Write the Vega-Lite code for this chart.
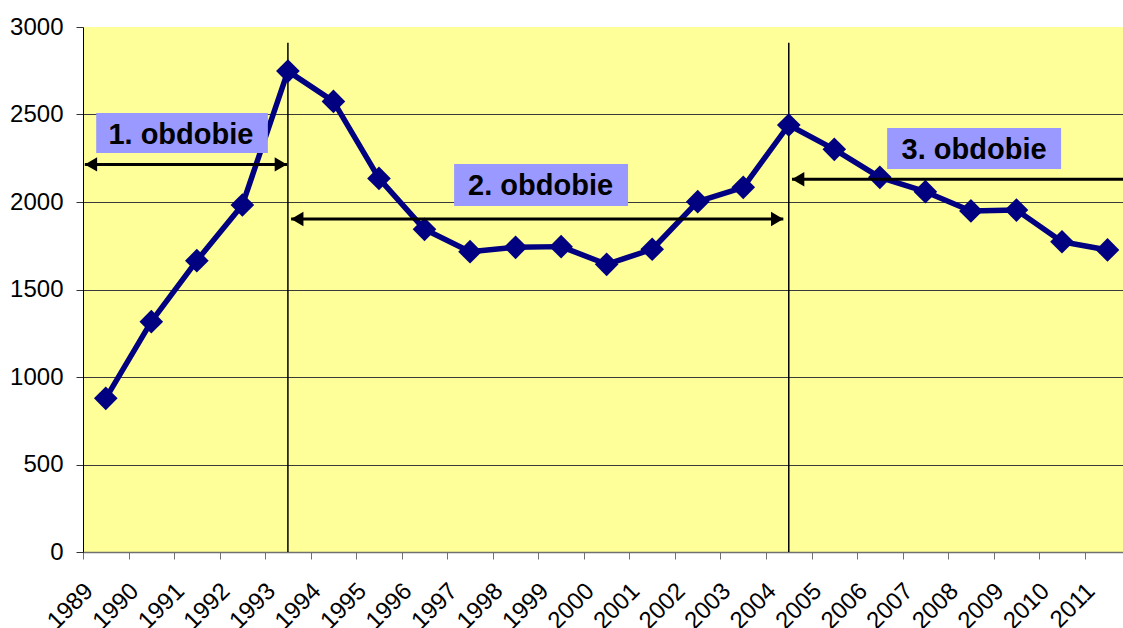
{
  "$schema": "https://vega.github.io/schema/vega-lite/v6.json",
  "width": 1040,
  "height": 525,
  "autosize": {"type": "none"},
  "padding": {"left": 83, "top": 27, "right": 0, "bottom": 76},
  "background": "white",
  "config": {
    "view": {"fill": "#FFFF99", "stroke": null},
    "font": "Liberation Sans"
  },
  "datasets": {
    "series": [
      {"year": 1989, "value": 878},
      {"year": 1990, "value": 1316},
      {"year": 1991, "value": 1665},
      {"year": 1992, "value": 1983},
      {"year": 1993, "value": 2748},
      {"year": 1994, "value": 2575},
      {"year": 1995, "value": 2135},
      {"year": 1996, "value": 1844},
      {"year": 1997, "value": 1716},
      {"year": 1998, "value": 1741},
      {"year": 1999, "value": 1745},
      {"year": 2000, "value": 1644},
      {"year": 2001, "value": 1730},
      {"year": 2002, "value": 2002},
      {"year": 2003, "value": 2084},
      {"year": 2004, "value": 2440},
      {"year": 2005, "value": 2301},
      {"year": 2006, "value": 2141},
      {"year": 2007, "value": 2059},
      {"year": 2008, "value": 1949},
      {"year": 2009, "value": 1954},
      {"year": 2010, "value": 1773},
      {"year": 2011, "value": 1726}
    ],
    "periods": [
      {"year": 1993, "bottom": 0, "top": 2910},
      {"year": 2004, "bottom": 0, "top": 2910}
    ],
    "arrows": [
      {"start": 1988.54, "end": 1992.98, "level": 2215},
      {"start": 1993.07, "end": 2003.88, "level": 1903},
      {"start": 2004.07, "end": 2011.34, "level": 2130}
    ],
    "heads": [
      {"at": 1988.54, "level": 2215, "dir": "left"},
      {"at": 1992.98, "level": 2215, "dir": "right"},
      {"at": 1993.07, "level": 1903, "dir": "left"},
      {"at": 2003.88, "level": 1903, "dir": "right"},
      {"at": 2004.07, "level": 2130, "dir": "left"}
    ],
    "boxes": [
      {"x1": 1988.79, "x2": 1992.56, "y1": 2280, "y2": 2509, "cx": 1990.65, "base": 2331, "label": "1. obdobie"},
      {"x1": 1996.65, "x2": 2000.47, "y1": 1977, "y2": 2217, "cx": 1998.55, "base": 2040, "label": "2. obdobie"},
      {"x1": 2006.16, "x2": 2009.98, "y1": 2189, "y2": 2423, "cx": 2008.07, "base": 2246, "label": "3. obdobie"}
    ]
  },
  "layer": [
    {
      "data": {"name": "periods"},
      "mark": {"type": "rule", "color": "black", "strokeWidth": 1.5},
      "encoding": {
        "x": {
          "field": "year",
          "type": "quantitative",
          "scale": {"domain": [1988.5, 2011.34], "nice": false, "zero": false},
          "axis": {
            "title": null,
            "values": [1988.5, 1989.5, 1990.5, 1991.5, 1992.5, 1993.5, 1994.5, 1995.5, 1996.5, 1997.5, 1998.5, 1999.5, 2000.5, 2001.5, 2002.5, 2003.5, 2004.5, 2005.5, 2006.5, 2007.5, 2008.5, 2009.5, 2010.5],
            "labelExpr": "format(datum.value + 0.5, 'd')",
            "labelAngle": -45,
            "labelAlign": "right",
            "labelBaseline": "alphabetic",
            "labelFontSize": 24,
            "labelColor": "black",
            "labelPadding": 33,
            "labelOffset": 11,
            "labelOverlap": false,
            "labelFlush": false,
            "labelBound": false,
            "tickSize": 7,
            "tickColor": "#707070",
            "tickWidth": 1,
            "domainColor": "#707070",
            "domainWidth": 1.5,
            "grid": false
          }
        },
        "y": {
          "field": "bottom",
          "type": "quantitative",
          "scale": {"domain": [0, 3000], "nice": false, "zero": true},
          "axis": {
            "title": null,
            "values": [0, 500, 1000, 1500, 2000, 2500, 3000],
            "format": "d",
            "labelFontSize": 24,
            "labelColor": "black",
            "labelPadding": 13,
            "labelBaseline": "middle",
            "tickSize": 7,
            "tickColor": "#333333",
            "domainColor": "black",
            "domainWidth": 1,
            "grid": true,
            "gridColor": "#3a3a3a",
            "gridWidth": 1,
            "gridOpacity": {"condition": {"test": "datum.value == 3000 || datum.value == 0", "value": 0}, "value": 1}
          }
        },
        "y2": {"field": "top"}
      }
    },
    {
      "data": {"name": "series"},
      "mark": {
        "type": "line",
        "color": "#000080",
        "strokeWidth": 5.5,
        "strokeJoin": "round",
        "point": {"shape": "diamond", "size": 560, "filled": true, "color": "#000080", "opacity": 1}
      },
      "encoding": {
        "x": {"field": "year", "type": "quantitative", "scale": {"domain": [1988.5, 2011.34], "nice": false, "zero": false}},
        "y": {"field": "value", "type": "quantitative", "scale": {"domain": [0, 3000], "nice": false, "zero": true}}
      }
    },
    {
      "data": {"name": "arrows"},
      "mark": {"type": "rule", "color": "black", "strokeWidth": 3},
      "encoding": {
        "x": {"field": "start", "type": "quantitative"},
        "x2": {"field": "end"},
        "y": {"field": "level", "type": "quantitative"}
      }
    },
    {
      "data": {"name": "heads"},
      "mark": {"type": "point", "filled": true, "color": "black", "opacity": 1, "size": 210, "strokeWidth": 0},
      "encoding": {
        "x": {"field": "at", "type": "quantitative"},
        "y": {"field": "level", "type": "quantitative"},
        "shape": {
          "field": "dir",
          "type": "nominal",
          "scale": {"domain": ["left", "right"], "range": ["M0,0L1.7,-1L1.7,1Z", "M0,0L-1.7,-1L-1.7,1Z"]},
          "legend": null
        }
      }
    },
    {
      "data": {"name": "boxes"},
      "mark": {"type": "rect", "color": "#9999FF", "opacity": 1},
      "encoding": {
        "x": {"field": "x1", "type": "quantitative"},
        "x2": {"field": "x2"},
        "y": {"field": "y1", "type": "quantitative"},
        "y2": {"field": "y2"}
      }
    },
    {
      "data": {"name": "boxes"},
      "mark": {"type": "text", "font": "Liberation Sans", "fontWeight": "bold", "fontSize": 29, "color": "black", "align": "center", "baseline": "alphabetic"},
      "encoding": {
        "x": {"field": "cx", "type": "quantitative"},
        "y": {"field": "base", "type": "quantitative"},
        "text": {"field": "label"}
      }
    }
  ]
}
